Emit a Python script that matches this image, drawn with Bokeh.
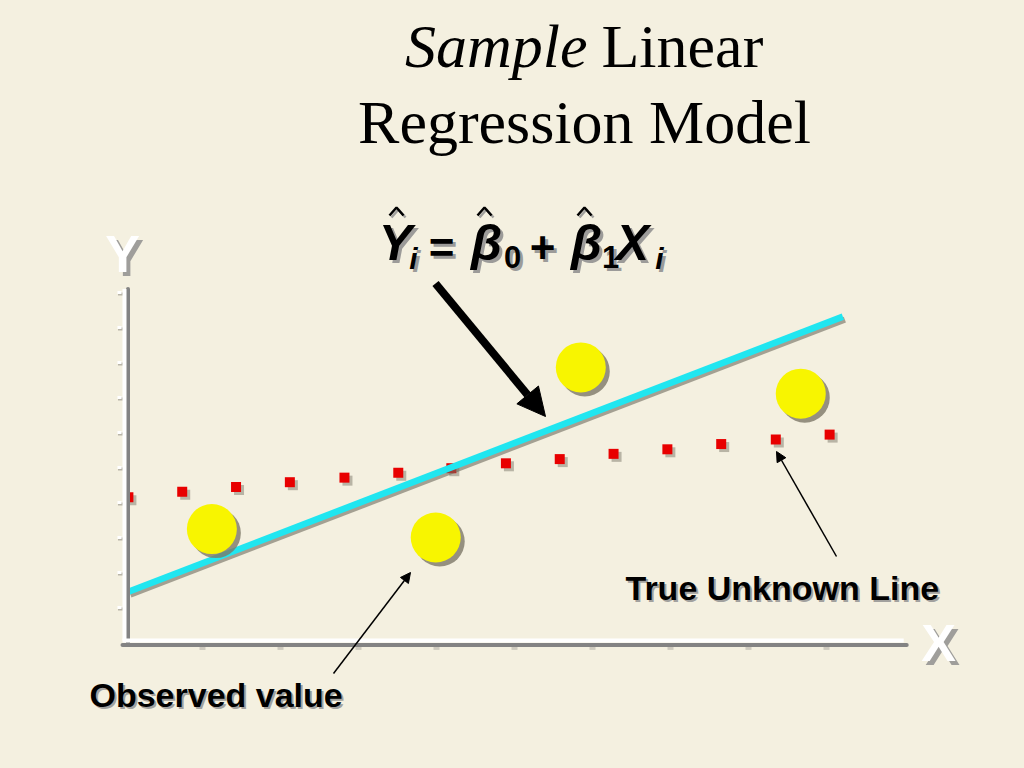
from bokeh.plotting import figure
from bokeh.models import Range1d, Label, Arrow, NormalHead
from bokeh.embed import file_html
from bokeh.resources import INLINE

BG = "#F4F0E0"

# ---------------- data ----------------
# observed values (yellow points)
obs_x = [1.12, 3.99, 5.85, 8.67]
obs_y = [3.24, 3.00, 7.86, 7.11]

# true (unknown) line, drawn as red dots
true_x = [0.05, 0.74, 1.43, 2.12, 2.82, 3.51, 4.19, 4.89, 5.58, 6.27, 6.96, 7.65, 8.35, 9.04]
true_y = [4.15, 4.31, 4.44, 4.58, 4.71, 4.85, 4.98, 5.12, 5.24, 5.39, 5.52, 5.67, 5.80, 5.94]

# sample regression line (end points)
fit_x = [0.05, 9.21]
fit_y = [1.45, 9.31]

# tick positions
x_ticks = [1, 2, 3, 4, 5, 6, 7, 8, 9]
y_ticks = [1, 2, 3, 4, 5, 6, 7, 8, 9, 10]

# axis extents
x_axis_end = 9.99
y_axis_top = 10.1
x_axis_y = 0.06

# ---------------- layout helpers ----------------
UX, UY = 78.0, 35.0          # pixels per data unit
OX, OY = 124.0, 642.0        # image pixel of data origin
W, H = 1024, 768
KB = 0.35                    # baseline correction for labels (fraction of font size)


def X(px):
    return (px - OX) / UX


def Y(py):
    return (OY - py) / UY


def sx(dpx):
    return dpx / UX


def sy(dpy):
    return -dpy / UY


p = figure(width=W, height=H,
           x_range=Range1d(X(0), X(W)), y_range=Range1d(Y(H), Y(0)),
           x_axis_type=None, y_axis_type=None,
           output_backend="svg", toolbar_location=None, min_border=0,
           background_fill_color=BG, border_fill_color=BG, outline_line_color=None)
p.grid.visible = False


def label(txt, px, py, size, color="black", style="bold", font="Liberation Sans",
          align="left", shadow=None):
    py = py - KB * size
    if shadow is not None:
        ddx, ddy, scol, salpha = shadow
        p.add_layout(Label(x=X(px + ddx), y=Y(py + ddy), text=txt, text_font=font,
                           text_font_size=f"{size}px", text_font_style=style,
                           text_color=scol, text_alpha=salpha, text_align=align,
                           text_baseline="alphabetic"))
    p.add_layout(Label(x=X(px), y=Y(py), text=txt, text_font=font,
                       text_font_size=f"{size}px", text_font_style=style,
                       text_color=color, text_align=align, text_baseline="alphabetic"))


# ---------------- ticks ----------------
p.rect(x=x_ticks, y=[x_axis_y + sy(8)] * len(x_ticks), width=6, height=3,
       width_units="screen", height_units="screen", color="#cfcbbf", line_color=None)
p.rect(x=[sx(-4)] * len(y_ticks), y=[t + sy(1.5) for t in y_ticks], width=5, height=3,
       width_units="screen", height_units="screen", color="#b9b5a8", line_color=None)
p.rect(x=[sx(-5)] * len(y_ticks), y=y_ticks, width=4, height=3,
       width_units="screen", height_units="screen", color="white", line_color=None)

# ---------------- true line (red squares) ----------------
p.scatter([v + sx(3) for v in true_x], [v + sy(3) for v in true_y], marker="square",
          size=10, color="#6e6a5e", alpha=0.45, line_color=None)
p.scatter(true_x, true_y, marker="square", size=10, color="#E80000", line_color=None)

# ---------------- sample regression line ----------------
p.line([v + sx(2) for v in fit_x], [v + sy(3) for v in fit_y], line_width=6,
       color="#6e6a5e", alpha=0.6)
p.line(fit_x, fit_y, line_width=6.5, color="#20E6F0")

# ---------------- observed values ----------------
p.scatter([v + sx(4) for v in obs_x], [v + sy(4) for v in obs_y], size=50,
          color="#7d7868", alpha=0.8, line_color=None)
p.scatter(obs_x, obs_y, size=50, color="#F8F500", line_color=None)

# ---------------- axes ----------------
p.line([0 + sx(3.5), 0 + sx(3.5)], [x_axis_y + sy(4), y_axis_top], line_width=4,
       color="#838383", line_cap="round")
p.line([0 + sx(-2), x_axis_end + sx(3)], [x_axis_y + sy(4.5), x_axis_y + sy(4.5)],
       line_width=4, color="#838383", line_cap="round")
p.line([0, 0], [x_axis_y, y_axis_top], line_width=4, color="white")
p.line([sx(-2), x_axis_end], [x_axis_y, x_axis_y], line_width=4, color="white")

# axis letters
label("Y", 122, 272, 52, color="white", align="center", shadow=(4, 4, "#8a8a8a", 0.8))
label("X", 938, 661, 52, color="white", align="center", shadow=(4, 4, "#8a8a8a", 0.8))

# ---------------- title ----------------
label("Sample", 587, 67, 62, style="italic", font="Liberation Serif", align="right")
label("Linear", 601, 67, 62, style="normal", font="Liberation Serif", align="left")
label("Regression Model", 584, 143, 62, style="normal", font="Liberation Serif", align="center")

# ---------------- formula ----------------
sh = (3, 3, "#8c8c8c", 0.85)
label("Y", 395, 260, 50, style="bold italic", align="center", shadow=sh)
label("i", 413, 268, 30, style="bold italic", align="center", shadow=sh)
label("=", 441, 262, 44, style="bold", align="center", shadow=sh)
label("\u03b2", 486, 260, 50, style="bold italic", align="center", shadow=sh)
label("0", 512, 267, 31, style="bold", align="center", shadow=sh)
label("+", 542, 262, 44, style="bold", align="center", shadow=sh)
label("\u03b2", 586, 260, 50, style="bold italic", align="center", shadow=sh)
label("1", 610, 267, 31, style="bold", align="center", shadow=sh)
label("X", 632, 260, 50, style="bold italic", align="center", shadow=sh)
label("i", 659, 268, 30, style="bold italic", align="center", shadow=sh)

for c in (396, 484, 584):
    p.line([X(c - 7 + 2), X(c + 2), X(c + 7 + 2)], [Y(217), Y(209), Y(217)],
           line_width=2.5, color="#8c8c8c", alpha=0.8)
    p.line([X(c - 7), X(c), X(c + 7)], [Y(215), Y(207), Y(215)],
           line_width=2.5, color="black")

# ---------------- arrows ----------------
p.add_layout(Arrow(end=NormalHead(size=28, fill_color="black", line_color="black"),
                   x_start=X(435), y_start=Y(283), x_end=X(545), y_end=Y(416),
                   line_width=8, line_color="black"))
p.add_layout(Arrow(end=NormalHead(size=10, fill_color="black", line_color="black"),
                   x_start=X(333), y_start=Y(673), x_end=X(410), y_end=Y(572),
                   line_width=1.5, line_color="black"))
p.add_layout(Arrow(end=NormalHead(size=10, fill_color="black", line_color="black"),
                   x_start=X(836), y_start=Y(556), x_end=X(776), y_end=Y(451),
                   line_width=1.5, line_color="black"))

# ---------------- text labels ----------------
lsh = (2, 2, "#8c8c8c", 0.8)
label("True Unknown Line", 625, 599, 34, style="bold", align="left", shadow=lsh)
label("Observed value", 89, 706, 34, style="bold", align="left", shadow=lsh)

html = file_html(p, INLINE)
html = html.replace("<body>", f'<body style="background-color:{BG};">')
open("out.html", "w").write(html)
